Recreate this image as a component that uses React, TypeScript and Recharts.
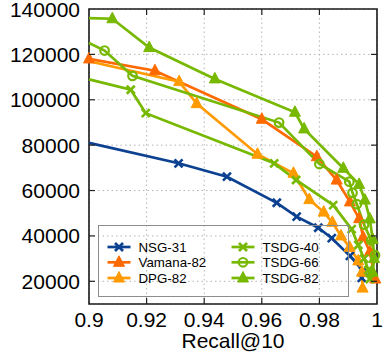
import React from 'react';
import { LineChart, Line, XAxis, YAxis, CartesianGrid, ReferenceArea, Legend } from 'recharts';

const W = 386;
const H = 353;
const MARGIN = { top: 9, right: 9, left: 0, bottom: 0 };
const Y_AXIS_W = 89;
const X_AXIS_H = 49;
const PLOT_TOP = MARGIN.top;
const PLOT_RIGHT = W - MARGIN.right;
const FONT = '"Liberation Sans", Arial, Helvetica, sans-serif';

const xTicks = [0.9, 0.92, 0.94, 0.96, 0.98, 1];
const xTickLabels = ['0.9', '0.92', '0.94', '0.96', '0.98', '1'];
const yTicks = [20000, 40000, 60000, 80000, 100000, 120000, 140000];
const yTickLabels = ['20000', '40000', '60000', '80000', '100000', '120000', '140000'];
const xLabel = 'Recall@10';

const nsgRecall = [0.9, 0.9311, 0.9479, 0.9652, 0.9721, 0.9796, 0.9843, 0.9906, 0.9952, 0.9947];
const nsgQps = [81000, 72000, 66100, 54600, 48500, 43600, 39000, 31200, 24500, 21500];

const vamanaRecall = [0.9, 0.9229, 0.96, 0.9791, 0.986, 0.9906, 0.9938, 0.9952, 0.9975, 0.9994];
const vamanaQps = [118000, 112800, 91400, 74900, 64600, 55000, 47600, 39500, 33000, 21000];

const dpgRecall = [0.9, 0.9313, 0.9374, 0.9585, 0.971, 0.9765, 0.9815, 0.9845, 0.9875, 0.9905, 0.9935, 0.9948, 0.995];
const dpgQps = [117000, 108000, 98300, 76000, 67600, 56000, 50500, 46000, 40000, 35000, 29000, 24000, 17000];

const tsdg40Recall = [0.9, 0.9145, 0.9197, 0.9643, 0.9719, 0.9848, 0.9912, 0.9935, 0.9955, 0.997, 0.9975];
const tsdg40Qps = [109000, 104400, 94100, 72000, 64650, 53600, 43000, 36000, 30000, 25000, 21000];

const tsdg66Recall = [0.9, 0.9054, 0.9151, 0.966, 0.98, 0.9904, 0.9915, 0.993, 0.9955, 0.998, 0.9993];
const tsdg66Qps = [125000, 121700, 110550, 89950, 71700, 63900, 59000, 54000, 45000, 38000, 31500];

const tsdg82Recall = [0.9, 0.9081, 0.9209, 0.9437, 0.9715, 0.9747, 0.9883, 0.9938, 0.9958, 0.9975, 0.9985, 0.999, 0.9985];
const tsdg82Qps = [136000, 135700, 123000, 109200, 94500, 87150, 69800, 62700, 55800, 47500, 38500, 30000, 24000];

const seriesNames = ['NSG-31', 'Vamana-82', 'DPG-82', 'TSDG-40', 'TSDG-66', 'TSDG-82'];
const seriesRecalls = [nsgRecall, vamanaRecall, dpgRecall, tsdg40Recall, tsdg66Recall, tsdg82Recall];
const seriesQps = [nsgQps, vamanaQps, dpgQps, tsdg40Qps, tsdg66Qps, tsdg82Qps];
const seriesColors = ['#0c4191', '#ff6a00', '#ff9a00', '#77b800', '#77b800', '#77b800'];
const seriesMarkers = ['x', 'tri', 'tri', 'x', 'circle', 'tri'];
const seriesEdgeStart = [true, false, true, true, true, true];

const seriesData = seriesRecalls.map((rec, s) => rec.map((r, i) => ({ r, v: seriesQps[s][i] })));

function Marker({ shape, cx, cy, color }: { shape: string; cx: number; cy: number; color: string }) {
  if (shape === 'x') {
    const d = 4;
    return (
      <g stroke={color} strokeWidth={2.6} strokeLinecap="butt">
        <line x1={cx - d} y1={cy - d} x2={cx + d} y2={cy + d} />
        <line x1={cx - d} y1={cy + d} x2={cx + d} y2={cy - d} />
      </g>
    );
  }
  if (shape === 'circle') {
    return <circle cx={cx} cy={cy} r={4.3} fill="none" stroke={color} strokeWidth={2.2} />;
  }
  return (
    <polygon
      points={`${cx},${cy - 6.5} ${cx - 5.5},${cy + 4} ${cx + 5.5},${cy + 4}`}
      fill={color}
      stroke={color}
      strokeWidth={1}
      strokeLinejoin="miter"
    />
  );
}

function makeDot(s: number) {
  return (props: any) => {
    const { cx, cy, index } = props;
    if ((seriesEdgeStart[s] && index === 0) || cx == null || cy == null) {
      return <g key={`d-${s}-${index}`} />;
    }
    return (
      <g key={`d-${s}-${index}`}>
        <Marker shape={seriesMarkers[s]} cx={cx} cy={cy} color={seriesColors[s]} />
      </g>
    );
  };
}

function XTick(props: any) {
  const { x, y, index, payload } = props;
  const i = index != null ? index : xTicks.indexOf(payload.value);
  const edge = i === 0 || i === xTicks.length - 1;
  return (
    <g>
      {!edge && <line x1={x} y1={y} x2={x} y2={y - 6} stroke="#222" strokeWidth={1.2} />}
      {!edge && <line x1={x} y1={PLOT_TOP} x2={x} y2={PLOT_TOP + 6} stroke="#222" strokeWidth={1.2} />}
      <text x={x} y={y + 23} textAnchor="middle" fontSize={21} fontFamily={FONT} fill="#000">
        {xTickLabels[i]}
      </text>
    </g>
  );
}

function YTick(props: any) {
  const { x, y, index, payload } = props;
  const i = index != null ? index : yTicks.indexOf(payload.value);
  const edge = i === yTicks.length - 1;
  return (
    <g>
      {!edge && <line x1={x} y1={y} x2={x + 6} y2={y} stroke="#222" strokeWidth={1.2} />}
      {!edge && <line x1={PLOT_RIGHT} y1={y} x2={PLOT_RIGHT - 6} y2={y} stroke="#222" strokeWidth={1.2} />}
      <text x={x - 9} y={y + 7.5} textAnchor="end" fontSize={21} fontFamily={FONT} fill="#000">
        {yTickLabels[i]}
      </text>
    </g>
  );
}

function XLabel(props: any) {
  const vb = props.viewBox || {};
  return (
    <text x={vb.x + vb.width / 2} y={vb.y + 44} textAnchor="middle" fontSize={21} fontFamily={FONT} fill="#000">
      {xLabel}
    </text>
  );
}

function LegendBox() {
  const colX = [8.5, 132.5];
  const rowY = [21, 36.3, 52];
  return (
    <svg width={251} height={72} style={{ display: 'block', overflow: 'visible' }}>
      {seriesNames.map((name, s) => {
        const col = s < 3 ? 0 : 1;
        const row = s % 3;
        const x0 = colX[col];
        const cy = rowY[row];
        return (
          <g key={name}>
            <line x1={x0} y1={cy} x2={x0 + 23} y2={cy} stroke={seriesColors[s]} strokeWidth={2.7} />
            <Marker shape={seriesMarkers[s]} cx={x0 + 11.5} cy={cy} color={seriesColors[s]} />
            <text x={x0 + 31} y={cy + 4.8} fontSize={13.3} fontFamily={FONT} fill="#000">
              {name}
            </text>
          </g>
        );
      })}
    </svg>
  );
}

export default function App() {
  return (
    <div style={{ position: 'absolute', left: 0, top: 0, width: W, height: H, background: '#fff' }}>
      <LineChart width={W} height={H} margin={MARGIN}>
        <CartesianGrid stroke="#b4b4b4" strokeDasharray="1.5 3" strokeWidth={1} />
        <XAxis
          dataKey="r"
          type="number"
          domain={[0.9, 1]}
          ticks={xTicks}
          interval={0}
          tick={<XTick />}
          tickLine={false}
          tickSize={0}
          tickMargin={0}
          axisLine={false}
          height={X_AXIS_H}
          label={<XLabel />}
        />
        <YAxis
          type="number"
          domain={[10000, 140000]}
          ticks={yTicks}
          interval={0}
          tick={<YTick />}
          tickLine={false}
          tickSize={0}
          tickMargin={0}
          axisLine={false}
          width={Y_AXIS_W}
        />
        <ReferenceArea x1={0.9} x2={1} y1={10000} y2={140000} fill="none" fillOpacity={0} stroke="#1a1a1a" strokeWidth={1.6} />
        {seriesData.map((d, s) => (
          <Line
            key={seriesNames[s]}
            name={seriesNames[s]}
            data={d}
            dataKey="v"
            type="linear"
            stroke={seriesColors[s]}
            strokeWidth={2.7}
            dot={makeDot(s)}
            activeDot={false}
            isAnimationActive={false}
          />
        ))}
        <Legend
          layout="horizontal"
          verticalAlign="middle"
          align="center"
          content={<LegendBox />}
          wrapperStyle={{
            position: 'absolute',
            left: 97.5,
            top: 225,
            width: 251,
            height: 72,
            border: '1.5px solid #8c8c8c',
            boxSizing: 'border-box',
            background: 'transparent',
          }}
        />
      </LineChart>
    </div>
  );
}
